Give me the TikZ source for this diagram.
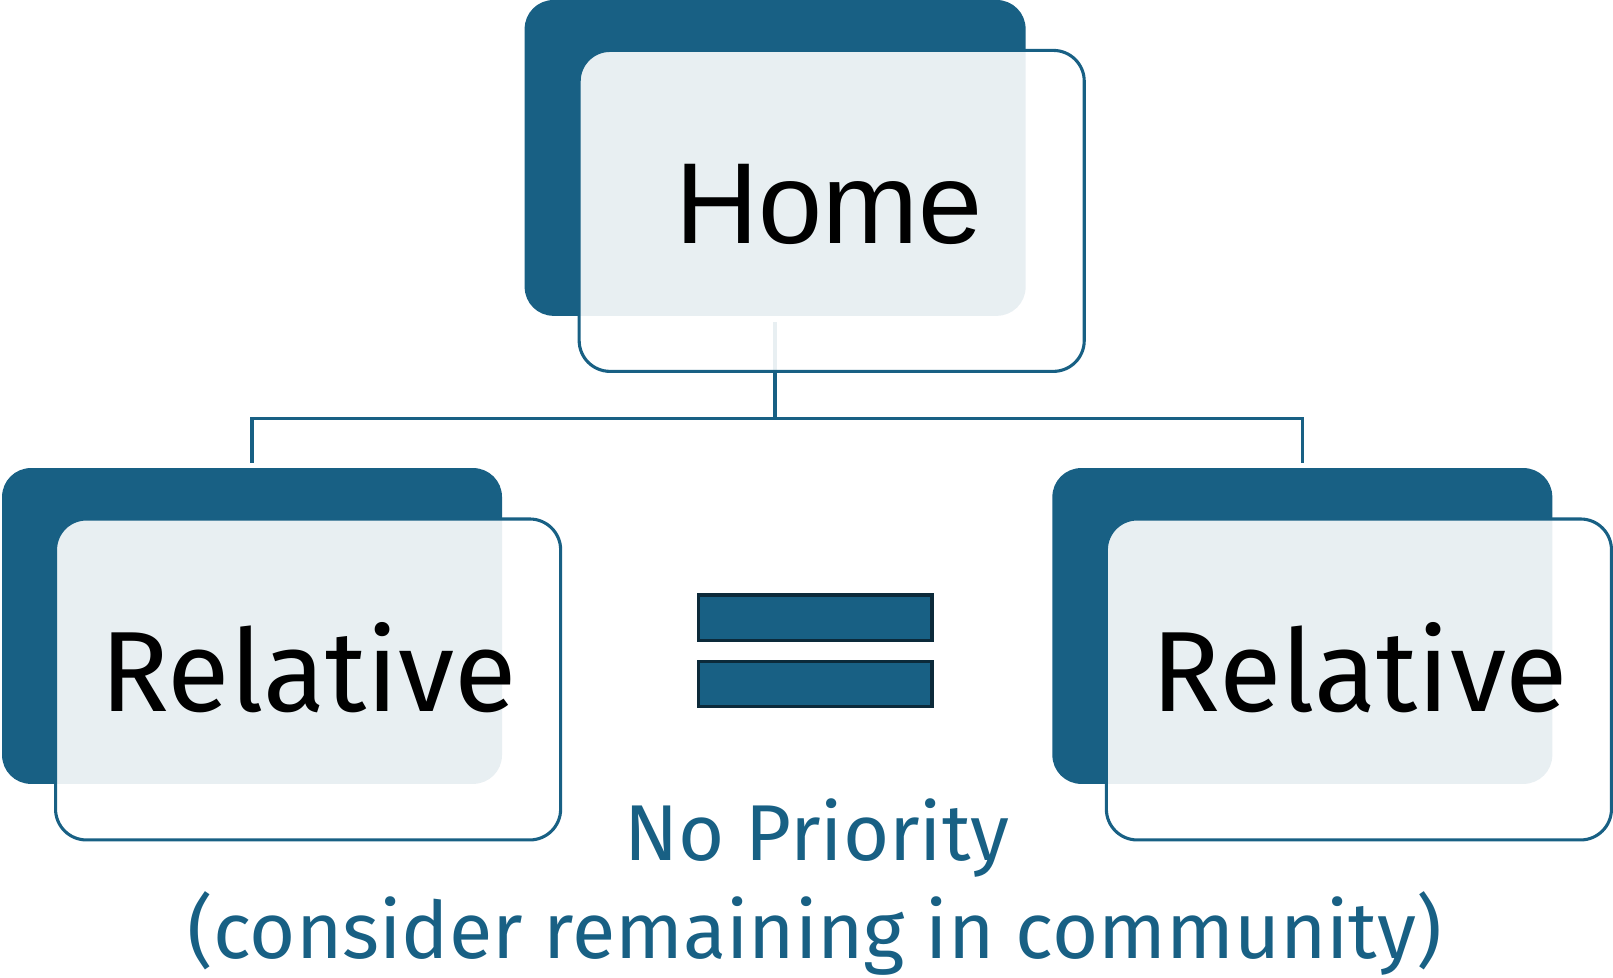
\documentclass[tikz,border=0pt]{standalone}
\usepackage{fontspec}
\setmainfont{Fira Sans}
\newfontfamily\homefont{Liberation Sans}
\definecolor{deepblue}{RGB}{24,96,132}
\definecolor{inkblue}{RGB}{12,42,58}
\begin{document}
\begin{tikzpicture}[x=0.5pt,y=-0.5pt,
  backbox/.style={rectangle,rounded corners=14pt,fill=deepblue,inner sep=0pt,outer sep=0pt},
  frontbox/.style={rectangle,rounded corners=15pt,draw=deepblue,line width=1.5pt,
    fill=white,fill opacity=0.9,draw opacity=1,inner sep=0pt,outer sep=0pt,
    minimum width=245.5pt,minimum height=156pt},
  link/.style={draw=deepblue,line width=1.6pt},
  bar/.style={rectangle,fill=deepblue,draw=inkblue,line width=1.7pt,inner sep=0pt,
    minimum width=113.5pt,minimum height=22pt},
  boxlabel/.style={anchor=base,text=black,inner sep=0pt},
  note/.style={anchor=base,text=deepblue,inner sep=0pt,font=\fontsize{38.5}{46}\selectfont}
]
\useasboundingbox (0,0) rectangle (1568,950);

% coloured back panels
\node[backbox,minimum width=243.5pt,minimum height=153.5pt] (homeback) at (753.5,153.5) {};
\node[backbox,minimum width=243pt,minimum height=153.5pt] (leftback) at (245,608.5) {};
\node[backbox,minimum width=243pt,minimum height=153.5pt] (rightback) at (1266,608.5) {};

% tree connectors (drawn beneath the front cards)
\coordinate (hub) at (753.5,407);
\draw[link] ([yshift=-3pt]homeback.south) -- (hub);
\draw[link] (hub) -| ([yshift=2.5pt]leftback.north);
\draw[link] (hub) -| ([yshift=2.5pt]rightback.north);

% translucent front cards
\node[frontbox] (homefront) at (808.5,205) {};
\node[frontbox] (leftfront) at (299.5,660.5) {};
\node[frontbox] (rightfront) at (1321,660.5) {};

% card labels
\node[boxlabel,font=\homefont\fontsize{56}{62}\selectfont] (hometext) at (806,237) {Home};
\node[boxlabel,font=\fontsize{55.5}{62}\selectfont] (lefttext) at (300,692) {Relative};
\node[boxlabel,font=\fontsize{55.5}{62}\selectfont] (righttext) at (1322,692) {Relative};

% equals sign
\node[bar] (bartop) at (792.5,600.5) {};
\node[bar] (barbottom) at (792.5,665) {};

% caption
\node[note] (priority) at (794,836) {No Priority};
\node[note] (community) at (792,932) {(consider remaining in community)};
\end{tikzpicture}
\end{document}
